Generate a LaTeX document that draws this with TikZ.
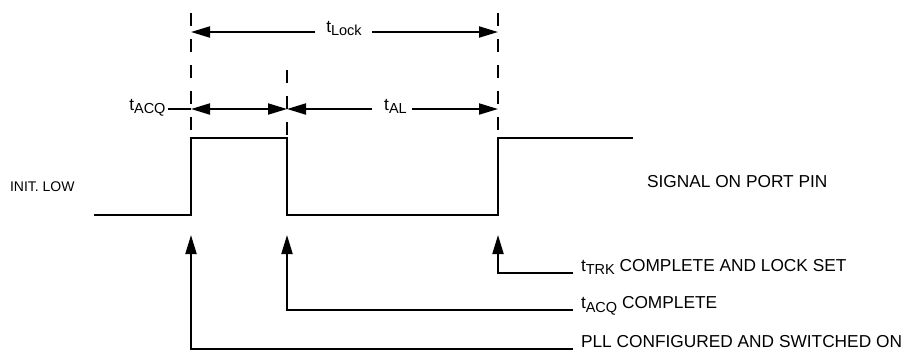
\documentclass[tikz,border=0pt]{standalone}
\usepackage{fontspec}
\setmainfont{Liberation Sans}
\usetikzlibrary{arrows.meta}
\newcommand\sbs[1]{\raisebox{-0.4ex}{\fontsize{14.5}{14.5}\selectfont #1}}
\begin{document}
\begin{tikzpicture}[x=1pt,y=-1pt,line width=2pt,
  lbl/.style={font=\fontsize{17.3}{20}\selectfont,inner sep=0pt},
  smalllbl/.style={font=\fontsize{14}{16}\selectfont,inner sep=0pt},
  guide/.style={line width=2pt,dash pattern=on 13pt off 13pt},
  dimarrow/.style={-{Triangle[length=19pt,width=11pt]}},
  bidim/.style={{Triangle[length=19pt,width=11pt]}-{Triangle[length=19pt,width=11pt]}},
  ptr/.style={-{Triangle[length=19pt,width=11pt]},line join=miter}]
\useasboundingbox (0,0) rectangle (912,354);
% guide coordinates
\coordinate (gAtop) at (191,13);
\coordinate (gAbot) at (191,138);
\coordinate (gBtop) at (287,70);
\coordinate (gBbot) at (287,138);
\coordinate (gCtop) at (498,13);
\coordinate (gCbot) at (498,138);
\draw[guide] (gAtop) -- (gAbot);
\draw[guide] (gBtop) -- (gBbot);
\draw[guide] (gCtop) -- (gCbot);
% signal
\coordinate (s0) at (94,214.5);
\coordinate (s1) at (191,214.5);
\coordinate (s2) at (191,138);
\coordinate (s3) at (287,138);
\coordinate (s4) at (287,214.5);
\coordinate (s5) at (498,214.5);
\coordinate (s6) at (498,138);
\coordinate (s7) at (633,138);
\draw[line join=miter] (s0) -- (s1) -- (s2) -- (s3) -- (s4) -- (s5) -- (s6) -- (s7);
% t_Lock
\node[lbl,anchor=base] (lock) at (344,32) {t\sbs{Lock}};
\coordinate (lockL) at (315,32);
\coordinate (lockR) at (372,32);
\coordinate (lockA) at (191,32);
\coordinate (lockC) at (498,32);
\draw[dimarrow] (lockL) -- (lockA);
\draw[dimarrow] (lockR) -- (lockC);
% t_ACQ row
\node[lbl,anchor=base east] (acq) at (166.5,110) {t\sbs{ACQ}};
\coordinate (acqE) at (167.5,109);
\coordinate (rowA) at (191,109);
\coordinate (rowB) at (287,109);
\coordinate (rowC) at (498,109);
\draw (acqE) -- (rowA);
\draw[bidim] (rowA) -- (rowB);
\node[lbl,anchor=base] (al) at (395.5,110) {t\sbs{AL}};
\coordinate (alL) at (372,109);
\coordinate (alR) at (412,109);
\draw[dimarrow] (alL) -- (rowB);
\draw[dimarrow] (alR) -- (rowC);
% side labels
\node[smalllbl,anchor=base west] (init) at (9,191) {INIT. LOW};
\node[lbl,anchor=base west] (sig) at (646,187) {SIGNAL ON PORT PIN};
% pointer arrows
\coordinate (pA) at (191,235);
\coordinate (pB) at (287,235);
\coordinate (pC) at (498,235);
\coordinate (cA) at (191,349);
\coordinate (cB) at (287,310);
\coordinate (cC) at (498,272.5);
\coordinate (eA) at (573,349);
\coordinate (eB) at (573,310);
\coordinate (eC) at (573,272.5);
\draw[ptr] (eA) -- (cA) -- (pA);
\draw[ptr] (eB) -- (cB) -- (pB);
\draw[ptr] (eC) -- (cC) -- (pC);
\node[lbl,anchor=base west] (trk) at (580,271) {t\sbs{TRK} COMPLETE AND LOCK SET};
\node[lbl,anchor=base west] (acqc) at (580,308.5) {t\sbs{ACQ} COMPLETE};
\node[lbl,anchor=base west] (pll) at (580,347) {PLL CONFIGURED AND SWITCHED ON};
\end{tikzpicture}
\end{document}
